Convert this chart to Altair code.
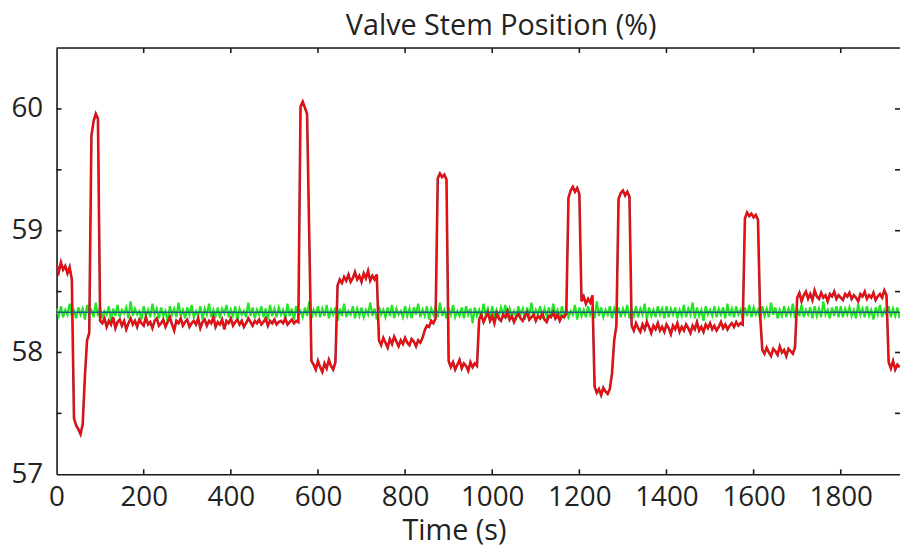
import altair as alt
import pandas as pd

# ---------------- data ----------------
STEP = 5  # sample spacing (s)
x_labels = [0, 200, 400, 600, 800, 1000, 1200, 1400, 1600, 1800]
x_ticks = [200, 400, 600, 800, 1000, 1200, 1400, 1600, 1800]
y_labels = [57, 58, 59, 60]
y_ticks = [57.5, 58, 58.5, 59, 59.5, 60]
setpoint = 58.33
X_MAX = 1936
Y_MIN, Y_MAX = 57, 60.5

# red trace: (segment start time, values every STEP seconds)
red_segments = [
    (0, [58.72, 58.66, 58.74, 58.68, 58.71, 58.65, 58.70, 58.60]),
    (40, [57.46, 57.40, 57.37, 57.33, 57.41]),
    (65, [57.80, 58.10, 58.16]),
    (80, [59.78, 59.90, 59.96, 59.92]),
    (100, [58.26]),
    (105, [58.24, 58.28, 58.21, 58.26, 58.23, 58.29, 58.20, 58.25, 58.27, 58.22,
           58.26, 58.19, 58.24, 58.28, 58.23, 58.26, 58.21, 58.27, 58.24, 58.22,
           58.29, 58.23, 58.25, 58.20, 58.26, 58.28, 58.22, 58.24, 58.27, 58.21,
           58.25, 58.29, 58.23, 58.18, 58.26, 58.24, 58.28, 58.22, 58.25, 58.27,
           58.21, 58.24, 58.26, 58.23, 58.28, 58.20, 58.25, 58.27, 58.22, 58.26,
           58.24, 58.29, 58.21, 58.25, 58.23, 58.27, 58.19, 58.26, 58.24, 58.28,
           58.22, 58.25, 58.27, 58.23, 58.26, 58.21, 58.24, 58.28, 58.25, 58.22,
           58.26, 58.24, 58.27, 58.23, 58.25, 58.28, 58.22, 58.26, 58.24, 58.27,
           58.23, 58.25, 58.26, 58.24, 58.28, 58.23, 58.25, 58.27, 58.24, 58.26,
           58.25]),
    (560, [60.02, 60.06, 60.01, 59.96]),
    (580, [58.96, 57.93]),
    (590, [57.90, 57.86, 57.93, 57.88, 57.84, 57.91, 57.87, 57.94, 57.89, 57.86, 57.92]),
    (645, [58.55, 58.60, 58.57, 58.62, 58.59, 58.64, 58.58, 58.61, 58.66, 58.60,
           58.63, 58.58, 58.65, 58.61, 58.67, 58.59, 58.63, 58.60, 58.64]),
    (740, [58.10, 58.06, 58.12, 58.08, 58.04, 58.11, 58.07, 58.13, 58.09, 58.05,
           58.10, 58.07, 58.12, 58.08, 58.06, 58.11, 58.09, 58.05, 58.10, 58.08, 58.12]),
    (845, [58.18, 58.22, 58.21, 58.26, 58.24, 58.28]),
    (875, [59.43, 59.47, 59.44, 59.46, 59.42]),
    (900, [57.93, 57.88, 57.92, 57.86, 57.90, 57.94, 57.87, 57.91, 57.89, 57.85,
           57.92, 57.88, 57.91, 57.89]),
    (970, [58.27, 58.31, 58.25, 58.29, 58.33, 58.26, 58.30, 58.24, 58.32, 58.28,
           58.26, 58.31, 58.29, 58.34, 58.27, 58.30, 58.25, 58.29, 58.32, 58.28,
           58.26, 58.30, 58.33, 58.27, 58.29, 58.31, 58.26, 58.30, 58.28, 58.32,
           58.27, 58.25, 58.30, 58.29, 58.33, 58.28, 58.31, 58.26, 58.30, 58.29, 58.32]),
    (1175, [59.27, 59.33, 59.36, 59.32, 59.35, 59.30]),
    (1205, [58.42, 58.46, 58.40, 58.44, 58.41, 58.47]),
    (1235, [57.72, 57.67, 57.70, 57.65, 57.71, 57.68, 57.66, 57.70]),
    (1275, [57.83, 58.10, 58.22]),
    (1290, [59.26, 59.31, 59.33, 59.29, 59.32, 59.28]),
    (1320, [58.22, 58.18, 58.24, 58.20, 58.17, 58.23, 58.19, 58.25, 58.21, 58.16,
            58.22, 58.19, 58.24, 58.18, 58.21, 58.17, 58.23, 58.20, 58.15, 58.22,
            58.19, 58.24, 58.17, 58.21, 58.18, 58.23, 58.20, 58.16, 58.22, 58.19,
            58.25, 58.18, 58.21, 58.17, 58.23, 58.20, 58.24, 58.19, 58.22, 58.18,
            58.21, 58.25, 58.20, 58.23, 58.19, 58.22, 58.24, 58.21, 58.25, 58.22,
            58.24, 58.23]),
    (1580, [59.10, 59.15, 59.12, 59.14, 59.11, 59.13, 59.09]),
    (1615, [58.30, 58.02, 57.99, 58.04, 58.00, 57.97, 58.03, 58.01, 57.98, 58.05,
            58.00, 58.02, 57.97, 58.03, 58.01, 57.99, 58.04]),
    (1700, [58.45, 58.49, 58.42, 58.47, 58.50, 58.44, 58.48, 58.43, 58.51, 58.46,
            58.44, 58.49, 58.45, 58.47, 58.42, 58.48, 58.46, 58.50, 58.44, 58.47,
            58.45, 58.43, 58.48, 58.46, 58.49, 58.44, 58.47, 58.45, 58.42, 58.48,
            58.46, 58.50, 58.44, 58.47, 58.45, 58.49, 58.43, 58.46, 58.48, 58.45,
            58.51, 58.47]),
    (1910, [57.92, 57.87, 57.93, 57.86, 57.90, 57.88]),
]

# green trace: values every STEP seconds from t = 0
green_values = [
    58.36, 58.30, 58.38, 58.29, 58.35, 58.31, 58.40, 58.30, 58.34, 58.28, 58.37, 58.31, 58.36, 58.27, 58.39, 58.32, 58.35, 58.29, 58.41, 58.30,
    58.37, 58.28, 58.34, 58.31, 58.38, 58.26, 58.36, 58.30, 58.39, 58.29, 58.35, 58.32, 58.37, 58.28, 58.42, 58.30, 58.36, 58.31, 58.34, 58.27,
    58.38, 58.30, 58.35, 58.29, 58.40, 58.31, 58.36, 58.28, 58.37, 58.30, 58.34, 58.25, 58.38, 58.31, 58.36, 58.29, 58.41, 58.30, 58.35, 58.28,
    58.37, 58.31, 58.39, 58.29, 58.34, 58.30, 58.38, 58.27, 58.36, 58.31, 58.40, 58.29, 58.35, 58.30, 58.37, 58.28, 58.36, 58.32, 58.39, 58.29,
    58.35, 58.30, 58.38, 58.26, 58.36, 58.31, 58.34, 58.29, 58.41, 58.30, 58.37, 58.28, 58.35, 58.31, 58.38, 58.29, 58.36, 58.27, 58.39, 58.30,
    58.36, 58.29, 58.37, 58.31, 58.35, 58.28, 58.40, 58.30, 58.36, 58.27, 58.38, 58.31, 58.34, 58.29, 58.37, 58.30, 58.42, 58.28, 58.35, 58.31,
    58.38, 58.29, 58.36, 58.30, 58.39, 58.28, 58.35, 58.31, 58.37, 58.26, 58.36, 58.30, 58.40, 58.29, 58.34, 58.31, 58.38, 58.28, 58.36, 58.30,
    58.37, 58.29, 58.35, 58.31, 58.41, 58.30, 58.36, 58.27, 58.38, 58.31, 58.35, 58.29, 58.37, 58.30, 58.39, 58.28, 58.36, 58.31, 58.34, 58.29,
    58.38, 58.30, 58.36, 58.28, 58.37, 58.31, 58.40, 58.29, 58.35, 58.30, 58.38, 58.27, 58.36, 58.31, 58.37, 58.29, 58.41, 58.30, 58.35, 58.28,
    58.36, 58.31, 58.39, 58.29, 58.34, 58.30, 58.37, 58.28, 58.38, 58.31, 58.36, 58.24, 58.37, 58.30, 58.35, 58.29, 58.40, 58.31, 58.36, 58.28,
    58.38, 58.30, 58.35, 58.29, 58.37, 58.31, 58.39, 58.28, 58.36, 58.30, 58.34, 58.29, 58.38, 58.31, 58.36, 58.27, 58.37, 58.30, 58.41, 58.29,
    58.35, 58.31, 58.38, 58.28, 58.36, 58.30, 58.37, 58.29, 58.40, 58.31, 58.35, 58.28, 58.38, 58.30, 58.36, 58.29, 58.34, 58.31, 58.39, 58.27,
    58.37, 58.30, 58.35, 58.29, 58.38, 58.31, 58.36, 58.28, 58.42, 58.30, 58.37, 58.29, 58.35, 58.31, 58.38, 58.28, 58.36, 58.30, 58.37, 58.29,
    58.36, 58.31, 58.39, 58.28, 58.35, 58.30, 58.38, 58.29, 58.36, 58.31, 58.40, 58.27, 58.37, 58.30, 58.35, 58.29, 58.38, 58.31, 58.36, 58.28,
    58.38, 58.29, 58.36, 58.31, 58.37, 58.28, 58.35, 58.30, 58.39, 58.29, 58.36, 58.31, 58.41, 58.28, 58.37, 58.30, 58.35, 58.26, 58.38, 58.31,
    58.35, 58.30, 58.38, 58.29, 58.36, 58.31, 58.37, 58.28, 58.40, 58.30, 58.36, 58.29, 58.38, 58.31, 58.35, 58.28, 58.37, 58.30, 58.39, 58.29,
    58.37, 58.31, 58.35, 58.28, 58.38, 58.30, 58.36, 58.29, 58.41, 58.31, 58.37, 58.28, 58.35, 58.30, 58.38, 58.29, 58.36, 58.31, 58.40, 58.28,
    58.36, 58.30, 58.39, 58.29, 58.35, 58.31, 58.37, 58.28, 58.38, 58.30, 58.36, 58.29, 58.42, 58.31, 58.35, 58.28, 58.37, 58.30, 58.38, 58.29,
    58.38, 58.29, 58.36, 58.31, 58.37, 58.30, 58.35, 58.28, 58.40, 58.31, 58.36, 58.29, 58.38, 58.30, 58.35, 58.27, 58.37, 58.31, 58.39, 58.29,
    58.35, 58.31, 58.38, 58.29, 58.36, 58.30, 58.37, 58.28, 58.39, 58.31, 58.36, 58.29, 58.38, 58.30, 58.35, 58.28, 58.37, 58.31, 58.36, 58.29,
]

# ---------------- tables ----------------
red_rows = []
for start, vals in red_segments:
    for k, v in enumerate(vals):
        red_rows.append({"t": start + STEP * k, "v": v})
red_df = pd.DataFrame(red_rows)
green_df = pd.DataFrame({"t": [STEP * k for k in range(len(green_values))], "v": green_values})
green_df = green_df[green_df["t"] <= X_MAX]

# ---------------- style ----------------
W, H = 851, 430
FONT = "Open Sans"
INK = "#222222"
FRAME = "#1a1a1a"
TICK = 5

xscale = alt.Scale(domain=[0, X_MAX], nice=False, zero=False)
yscale = alt.Scale(domain=[Y_MIN, Y_MAX], nice=False, zero=False)

# one shared axis definition per channel, used by every layer
x_axis = alt.Axis(values=x_labels, format="d", title="Time (s)",
                  titleX=401, titleY=66, titleBaseline="alphabetic", titleAlign="center")
y_axis = alt.Axis(values=y_labels, format="d", title=None)
X = alt.X("t:Q", scale=xscale, axis=x_axis)
Y = alt.Y("v:Q", scale=yscale, axis=y_axis)

green = alt.Chart(green_df).mark_line(color="#22e622", strokeWidth=2.2, clip=True).encode(x=X, y=Y)
red_under = alt.Chart(red_df).mark_line(color="#a81c28", strokeWidth=2.6, clip=True).encode(x=X, y=Y)
red_over = alt.Chart(red_df).mark_line(color="#ff0a0a", strokeWidth=1.3, clip=True).encode(x=X, y=Y)
sp = alt.Chart(pd.DataFrame({"v": [setpoint]})).mark_rule(color="#1f5a85", strokeWidth=1.5).encode(y=Y)
top_frame = alt.Chart(pd.DataFrame({"v": [Y_MAX]})).mark_rule(color=FRAME, strokeWidth=1.6).encode(y=Y)

xt_df = pd.DataFrame({"t": x_ticks})
yt_df = pd.DataFrame({"v": y_ticks})
bottom_ticks = alt.Chart(xt_df).mark_rule(color=FRAME, strokeWidth=1.6).encode(
    x=X, y=alt.value(H), y2=alt.value(H - TICK))
top_ticks = alt.Chart(xt_df).mark_rule(color=FRAME, strokeWidth=1.6).encode(
    x=X, y=alt.value(0), y2=alt.value(TICK))
left_ticks = alt.Chart(yt_df).mark_rule(color=FRAME, strokeWidth=1.6).encode(
    y=Y, x=alt.value(0), x2=alt.value(TICK))
right_ticks = alt.Chart(yt_df).mark_rule(color=FRAME, strokeWidth=1.6).encode(
    y=Y, x=alt.value(W - TICK), x2=alt.value(W))

chart = alt.layer(
    green, red_under, red_over, sp, top_frame, bottom_ticks, top_ticks, left_ticks, right_ticks
).properties(
    width=W, height=H,
    autosize=alt.AutoSizeParams(type="none"),
    padding={"left": 49, "top": 38, "right": 0, "bottom": 72},
    title=alt.Title(
        "Valve Stem Position (%)", font=FONT, fontSize=29, fontWeight="normal",
        color=INK, anchor="middle", frame="group", dx=23, offset=-17, baseline="alphabetic",
    ),
).configure_view(stroke=None).configure(background="white").configure_axis(
    ticks=False, tickSize=0, grid=False,
    domain=True, domainColor=FRAME, domainWidth=1.6,
    labelFont=FONT, labelFontSize=28, labelColor=INK,
    labelFlush=False, labelOverlap=False,
    titleFont=FONT, titleFontSize=29, titleFontWeight="normal", titleColor=INK,
).configure_axisX(labelPadding=10).configure_axisY(labelPadding=14)

chart.save("out.html", embed_options={"renderer": "svg", "actions": False})
